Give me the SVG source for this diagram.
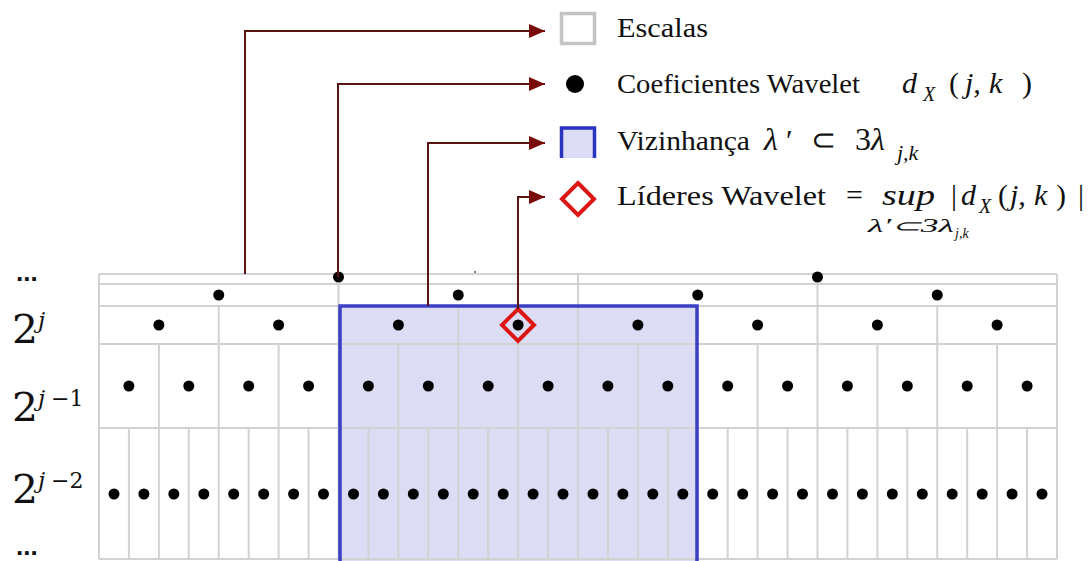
<svg xmlns="http://www.w3.org/2000/svg" width="1090" height="561" viewBox="0 0 1090 561">
<style>
.grid{stroke:#d2d2d2;stroke-width:2;fill:none}
.dot{fill:#000}
.conn{stroke:#5a1414;stroke-width:2;fill:none}
</style>
<defs>
<marker id="arr" markerUnits="userSpaceOnUse" markerWidth="16" markerHeight="14" refX="16" refY="7" orient="auto">
<path d="M0,0 L16,7 L0,14 Z" fill="#7a0a0a"/>
</marker>
</defs>
<rect width="1090" height="561" fill="#fff"/>

<g id="neighbourhood-fill">
<rect x="340" y="306" width="357" height="262" fill="#dcdcf4"/>
</g>

<g id="grid">
<path class="grid" d="M99,274H1057M99,284H1057M99,306H1057M99,344H1057M99,428H1057M99,559H1057
M99,274V559M1057,274V559M578,274V559M338.5,284V559M817.5,284V559
M218.75,306V559M458.25,306V559M697.75,306V559M937.25,306V559
M158.9,344V559M278.6,344V559M398.4,344V559M518.1,344V559M637.9,344V559M757.6,344V559M877.4,344V559M997.1,344V559
M128.9,428V559M188.8,428V559M248.7,428V559M308.6,428V559M368.4,428V559M428.3,428V559M488.2,428V559M548.1,428V559M607.9,428V559M667.8,428V559M727.7,428V559M787.6,428V559M847.4,428V559M907.3,428V559M967.2,428V559M1027.1,428V559"/>
<circle cx="475" cy="272" r="1" fill="#555"/>
</g>

<g id="coefficients">
<circle class="dot" cx="338.5" cy="277" r="5.5"/><circle class="dot" cx="817.5" cy="277" r="5.5"/>
<circle class="dot" cx="218.75" cy="295" r="5.5"/><circle class="dot" cx="458.25" cy="295" r="5.5"/><circle class="dot" cx="697.75" cy="295" r="5.5"/><circle class="dot" cx="937.25" cy="295" r="5.5"/>
<circle class="dot" cx="158.9" cy="325" r="5.5"/><circle class="dot" cx="278.6" cy="325" r="5.5"/><circle class="dot" cx="398.4" cy="325" r="5.5"/><circle class="dot" cx="518.1" cy="325" r="5.5"/><circle class="dot" cx="637.9" cy="325" r="5.5"/><circle class="dot" cx="757.6" cy="325" r="5.5"/><circle class="dot" cx="877.4" cy="325" r="5.5"/><circle class="dot" cx="997.1" cy="325" r="5.5"/>
<circle class="dot" cx="128.9" cy="386" r="5.5"/><circle class="dot" cx="188.8" cy="386" r="5.5"/><circle class="dot" cx="248.7" cy="386" r="5.5"/><circle class="dot" cx="308.6" cy="386" r="5.5"/><circle class="dot" cx="368.4" cy="386" r="5.5"/><circle class="dot" cx="428.3" cy="386" r="5.5"/><circle class="dot" cx="488.2" cy="386" r="5.5"/><circle class="dot" cx="548.1" cy="386" r="5.5"/><circle class="dot" cx="607.9" cy="386" r="5.5"/><circle class="dot" cx="667.8" cy="386" r="5.5"/><circle class="dot" cx="727.7" cy="386" r="5.5"/><circle class="dot" cx="787.6" cy="386" r="5.5"/><circle class="dot" cx="847.4" cy="386" r="5.5"/><circle class="dot" cx="907.3" cy="386" r="5.5"/><circle class="dot" cx="967.2" cy="386" r="5.5"/><circle class="dot" cx="1027.1" cy="386" r="5.5"/>
<circle class="dot" cx="114" cy="494" r="5.5"/><circle class="dot" cx="143.9" cy="494" r="5.5"/><circle class="dot" cx="173.8" cy="494" r="5.5"/><circle class="dot" cx="203.8" cy="494" r="5.5"/><circle class="dot" cx="233.7" cy="494" r="5.5"/><circle class="dot" cx="263.7" cy="494" r="5.5"/><circle class="dot" cx="293.6" cy="494" r="5.5"/><circle class="dot" cx="323.5" cy="494" r="5.5"/><circle class="dot" cx="353.5" cy="494" r="5.5"/><circle class="dot" cx="383.4" cy="494" r="5.5"/><circle class="dot" cx="413.3" cy="494" r="5.5"/><circle class="dot" cx="443.3" cy="494" r="5.5"/><circle class="dot" cx="473.2" cy="494" r="5.5"/><circle class="dot" cx="503.2" cy="494" r="5.5"/><circle class="dot" cx="533.1" cy="494" r="5.5"/><circle class="dot" cx="563" cy="494" r="5.5"/><circle class="dot" cx="593" cy="494" r="5.5"/><circle class="dot" cx="622.9" cy="494" r="5.5"/><circle class="dot" cx="652.8" cy="494" r="5.5"/><circle class="dot" cx="682.8" cy="494" r="5.5"/><circle class="dot" cx="712.7" cy="494" r="5.5"/><circle class="dot" cx="742.7" cy="494" r="5.5"/><circle class="dot" cx="772.6" cy="494" r="5.5"/><circle class="dot" cx="802.5" cy="494" r="5.5"/><circle class="dot" cx="832.5" cy="494" r="5.5"/><circle class="dot" cx="862.4" cy="494" r="5.5"/><circle class="dot" cx="892.3" cy="494" r="5.5"/><circle class="dot" cx="922.3" cy="494" r="5.5"/><circle class="dot" cx="952.2" cy="494" r="5.5"/><circle class="dot" cx="982.2" cy="494" r="5.5"/><circle class="dot" cx="1012.1" cy="494" r="5.5"/><circle class="dot" cx="1042" cy="494" r="5.5"/>
</g>

<g id="neighbourhood">
<rect x="340" y="306" width="357" height="262" fill="none" stroke="#3a3fc4" stroke-width="3.5"/>
</g>

<g id="leader">
<path d="M518,309 L534,325 L518,341 L502,325 Z" fill="none" stroke="#dd1515" stroke-width="4"/>
</g>

<g id="scale-labels" fill="#111">
<text x="16" y="281" font-family="'Liberation Sans', Arial, sans-serif" font-weight="bold" font-size="26">...</text>
<g font-family="'DejaVu Serif', 'Liberation Serif', serif">
<text x="12" y="343" font-size="40" textLength="26" lengthAdjust="spacingAndGlyphs">2</text><text x="38" y="328" font-size="23" font-style="italic">j</text>
<text x="12" y="421" font-size="40" textLength="26" lengthAdjust="spacingAndGlyphs">2</text><text x="38" y="406" font-size="23" font-style="italic">j</text><text x="51" y="406" font-size="22">−1</text>
<text x="12" y="503" font-size="40" textLength="26" lengthAdjust="spacingAndGlyphs">2</text><text x="38" y="488" font-size="23" font-style="italic">j</text><text x="51" y="488" font-size="22">−2</text>
</g>
<text x="16" y="555" font-family="'Liberation Sans', Arial, sans-serif" font-weight="bold" font-size="26">...</text>
</g>

<g id="connectors">
<path class="conn" d="M245,274V31H545" marker-end="url(#arr)"/>
<path class="conn" d="M338,277V84H545" marker-end="url(#arr)"/>
<path class="conn" d="M428,306V143H545" marker-end="url(#arr)"/>
<path class="conn" d="M518,309V197H545" marker-end="url(#arr)"/>
</g>

<g font-family="'Liberation Serif', 'Times New Roman', serif" fill="#111">
<g id="legend-escalas">
<rect x="561.5" y="13.5" width="33" height="30" fill="#fff" stroke="#c4c4c4" stroke-width="3.5"/>
<text x="617" y="37" font-size="28" textLength="91" lengthAdjust="spacingAndGlyphs">Escalas</text>
</g>

<g id="legend-coeficientes">
<circle cx="575" cy="84" r="9" fill="#000"/>
<text x="617" y="93" font-size="28" textLength="243" lengthAdjust="spacingAndGlyphs">Coeficientes Wavelet</text>
<text x="902" y="93" font-size="30" font-style="italic">d</text>
<text x="923" y="101" font-size="20" font-style="italic">X</text>
<text x="949" y="93" font-size="30">(</text>
<text x="965" y="93" font-size="30" font-style="italic">j,</text>
<text x="989" y="93" font-size="30" font-style="italic">k</text>
<text x="1022" y="93" font-size="30">)</text>
</g>

<g id="legend-vizinhanca">
<path d="M561.5,127.5H594.5V158H561.5Z" fill="#dcdcf4"/>
<path d="M561.5,158V128H594.5V158" fill="none" stroke="#2a32c0" stroke-width="3.5"/>
<text x="617" y="150" font-size="28" textLength="133" lengthAdjust="spacingAndGlyphs">Vizinhança</text>
<text x="764" y="150" font-size="32" font-style="italic">λ</text>
<text x="786" y="150" font-size="30">′</text>
<text x="811" y="150" font-size="30">⊂</text>
<text x="855" y="150" font-size="32">3</text>
<text x="871" y="150" font-size="32" font-style="italic">λ</text>
<text x="897" y="160" font-size="22" font-style="italic">j,k</text>
</g>

<g id="legend-lideres">
<path d="M578,183 L594,199 L578,215 L562,199 Z" fill="#fff" stroke="#dd1515" stroke-width="4"/>
<text x="617" y="205" font-size="28" textLength="209" lengthAdjust="spacingAndGlyphs">Líderes Wavelet</text>
<text x="846" y="205" font-size="30">=</text>
<text x="882" y="205" font-size="30" font-style="italic" textLength="53" lengthAdjust="spacingAndGlyphs">sup</text>
<text x="951" y="205" font-size="30">|</text>
<text x="961" y="205" font-size="30" font-style="italic">d</text>
<text x="979" y="213" font-size="20" font-style="italic">X</text>
<text x="998" y="205" font-size="30">(</text>
<text x="1010" y="205" font-size="30" font-style="italic">j,</text>
<text x="1034" y="205" font-size="30" font-style="italic">k</text>
<text x="1056" y="205" font-size="30">)</text>
<text x="1078" y="205" font-size="30">|</text>
<text x="868" y="232" font-size="18" font-style="italic" textLength="86" lengthAdjust="spacingAndGlyphs">λ′⊂3λ</text>
<text x="955" y="238" font-size="14" font-style="italic">j,k</text>
</g>
</g>
</svg>
